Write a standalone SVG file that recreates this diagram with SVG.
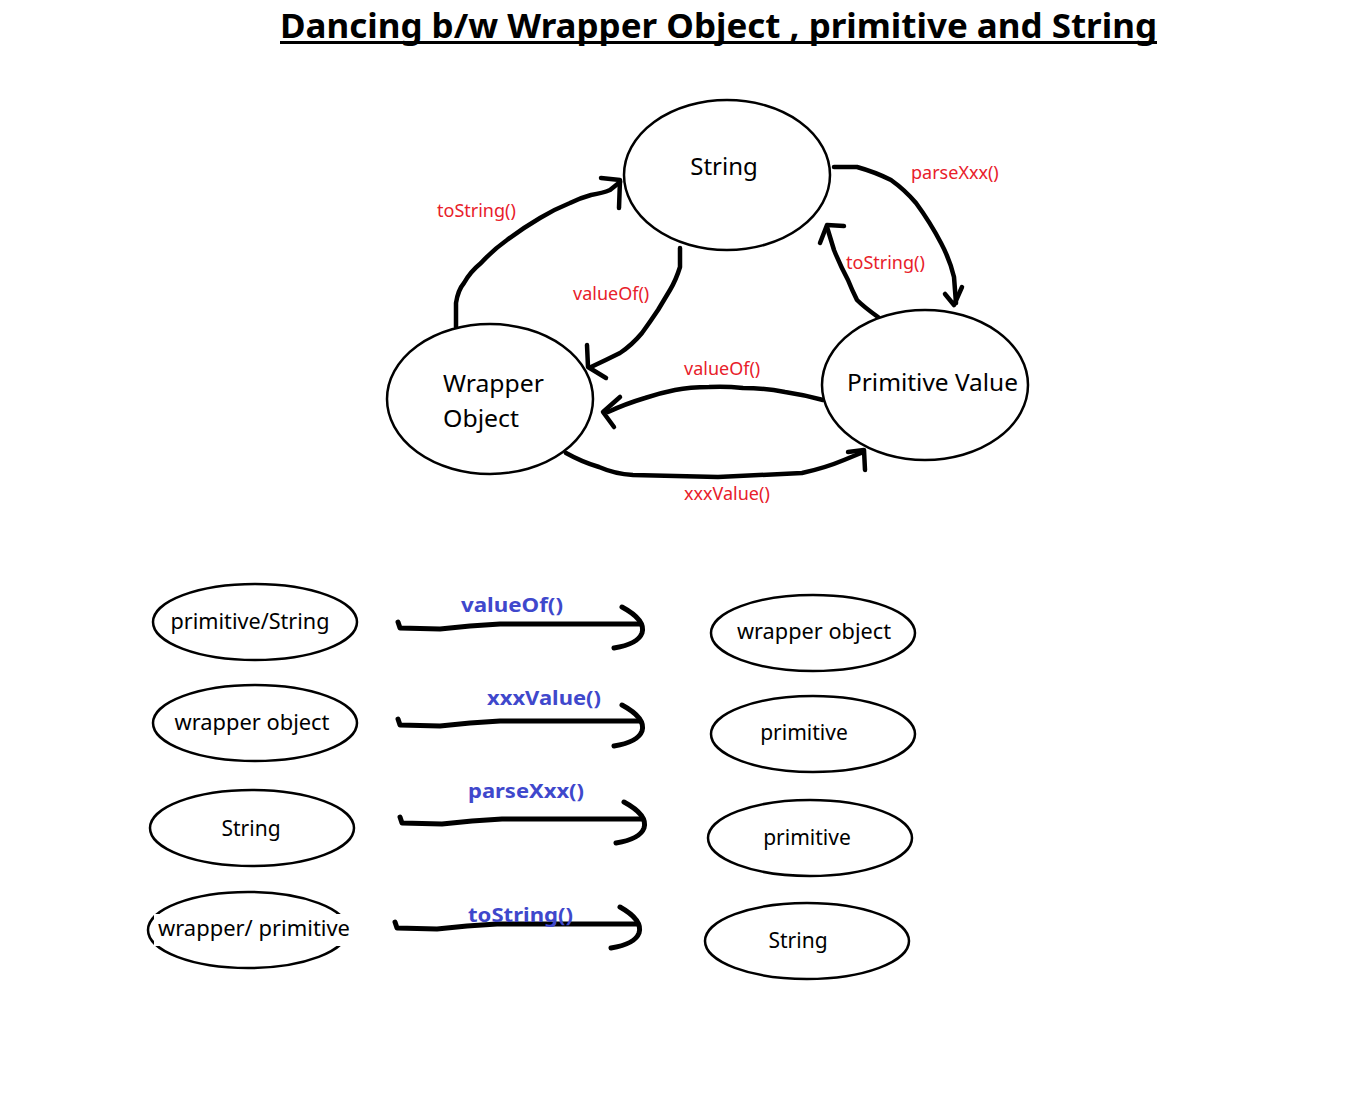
<svg xmlns="http://www.w3.org/2000/svg" width="1350" height="1097" viewBox="0 0 1350 1097">
<style>
.node{fill:#fff;stroke:#000;stroke-width:2.5}
.t{font-family:"Noto Sans","Open Sans",sans-serif;fill:#000}
.big{font-size:24px}
.sm{font-size:21px}
.red{font-family:"Noto Sans","Open Sans",sans-serif;font-size:18px;fill:#e8202a}
.blue{font-family:"Noto Sans","Open Sans",sans-serif;font-size:20px;font-weight:bold;fill:#3f48cc}
.c{fill:none;stroke:#000;stroke-width:4.5;stroke-linecap:round;stroke-linejoin:round}
.c2{fill:none;stroke:#000;stroke-width:5;stroke-linecap:round;stroke-linejoin:round}
</style>
<rect width="1350" height="1097" fill="#fff"/>
<text x="280" y="38" font-family="Noto Sans, Open Sans, sans-serif" font-size="34" font-weight="bold" textLength="877" lengthAdjust="spacingAndGlyphs">Dancing b/w Wrapper Object , primitive and String</text>
<rect x="280" y="41" width="877" height="3" fill="#000"/>

<g id="connectors">
  <path class="c" d="M456,327 L456,303 Q458,290 464,283 Q470,272 481,263 Q493,250 507,240 Q523,228 540,218 Q555,209 570,203 Q580,198 591,195 Q603,193 610,190 L620,182"/>
  <path class="c" d="M601,178 L620,180 L619,208"/>
  <path class="c" d="M834,167 L857,167 Q875,172 891,180 Q905,190 916,203 Q930,222 941,243 Q950,260 954,277 L956,303"/>
  <path class="c" d="M945,294 L954,305 L962,287"/>
  <path class="c" d="M878,317 Q864,307 857,300 Q852,290 848,280 Q840,265 834,250 L827,227"/>
  <path class="c" d="M820,243 L827,225 L844,226"/>
  <path class="c" d="M680,248 L680,267 Q676,280 670,290 Q664,300 658,310 Q650,322 642,333 Q632,345 620,353 Q606,360 591,367"/>
  <path class="c" d="M587,345 L588,367 L606,378"/>
  <path class="c" d="M823,400 Q805,395 785,392 Q765,388 743,388 Q725,386 709,387 Q690,387 675,390 Q660,393 645,398 Q625,404 608,412"/>
  <path class="c" d="M620,397 L603,412 L614,427"/>
  <path class="c" d="M566,453 Q582,462 599,467 Q615,474 633,475 L718,477 L802,473 Q825,468 844,460 L861,453"/>
  <path class="c" d="M848,452 L864,450 L865,470"/>

  <path class="c2" d="M398,622 L400,628 L440,629 L470,626 L500,624 L540,624 L640,624"/>
  <path class="c2" d="M622,607 Q646,620 642,633 Q638,644 614,648"/>
  <path class="c2" d="M398,719 L400,725 L440,726 L470,723 L500,721 L540,721 L640,721"/>
  <path class="c2" d="M622,705 Q646,718 642,731 Q638,742 614,746"/>
  <path class="c2" d="M400,817 L402,823 L442,824 L472,821 L502,819 L542,819 L642,819"/>
  <path class="c2" d="M624,802 Q648,815 644,828 Q640,839 616,843"/>
  <path class="c2" d="M395,922 L397,928 L437,929 L467,926 L497,924 L537,924 L637,924"/>
  <path class="c2" d="M620,907 Q643,920 639,933 Q635,944 611,948"/>
</g>

<g id="n-string"><ellipse class="node" cx="727" cy="175" rx="103" ry="75"/><text class="t big" x="724" y="175" text-anchor="middle">String</text></g>
<g id="n-wrapper"><ellipse class="node" cx="490" cy="399" rx="103" ry="75"/><text class="t big" x="443" y="392" textLength="101" lengthAdjust="spacingAndGlyphs">Wrapper</text><text class="t big" x="443" y="427" textLength="76" lengthAdjust="spacingAndGlyphs">Object</text></g>
<g id="n-primitive"><ellipse class="node" cx="925" cy="385" rx="103" ry="75"/><text class="t big" x="847" y="391" textLength="171" lengthAdjust="spacingAndGlyphs">Primitive Value</text></g>

<g id="labels-top">
  <text class="red" x="911" y="179">parseXxx()</text>
  <text class="red" x="437" y="217">toString()</text>
  <text class="red" x="846" y="269">toString()</text>
  <text class="red" x="573" y="300">valueOf()</text>
  <text class="red" x="684" y="375">valueOf()</text>
  <text class="red" x="684" y="500">xxxValue()</text>
</g>

<g id="n-l1"><ellipse class="node" cx="255" cy="622" rx="102" ry="38"/><text class="t sm" x="250" y="629" text-anchor="middle" textLength="159" lengthAdjust="spacingAndGlyphs">primitive/String</text></g>
<g id="n-l2"><ellipse class="node" cx="255" cy="723" rx="102" ry="38"/><text class="t sm" x="252" y="730" text-anchor="middle" textLength="155" lengthAdjust="spacingAndGlyphs">wrapper object</text></g>
<g id="n-l3"><ellipse class="node" cx="252" cy="828" rx="102" ry="38"/><text class="t sm" x="251" y="836" text-anchor="middle">String</text></g>
<g id="n-l4"><ellipse class="node" cx="248" cy="930" rx="100" ry="38"/><rect x="154" y="914" width="199" height="32" fill="#fff"/><text class="t sm" x="254" y="936" text-anchor="middle" textLength="192" lengthAdjust="spacingAndGlyphs">wrapper/ primitive</text></g>

<g id="n-r1"><ellipse class="node" cx="813" cy="633" rx="102" ry="38"/><text class="t sm" x="814" y="639" text-anchor="middle" textLength="154" lengthAdjust="spacingAndGlyphs">wrapper object</text></g>
<g id="n-r2"><ellipse class="node" cx="813" cy="734" rx="102" ry="38"/><text class="t sm" x="804" y="740" text-anchor="middle">primitive</text></g>
<g id="n-r3"><ellipse class="node" cx="810" cy="838" rx="102" ry="38"/><text class="t sm" x="807" y="845" text-anchor="middle">primitive</text></g>
<g id="n-r4"><ellipse class="node" cx="807" cy="941" rx="102" ry="38"/><text class="t sm" x="798" y="948" text-anchor="middle">String</text></g>

<g id="labels-bottom">
  <text class="blue" x="461" y="612" textLength="102" lengthAdjust="spacingAndGlyphs">valueOf()</text>
  <text class="blue" x="487" y="705" textLength="114" lengthAdjust="spacingAndGlyphs">xxxValue()</text>
  <text class="blue" x="468" y="798" textLength="116" lengthAdjust="spacingAndGlyphs">parseXxx()</text>
  <text class="blue" x="468" y="922" textLength="105" lengthAdjust="spacingAndGlyphs">toString()</text>
</g>
</svg>
